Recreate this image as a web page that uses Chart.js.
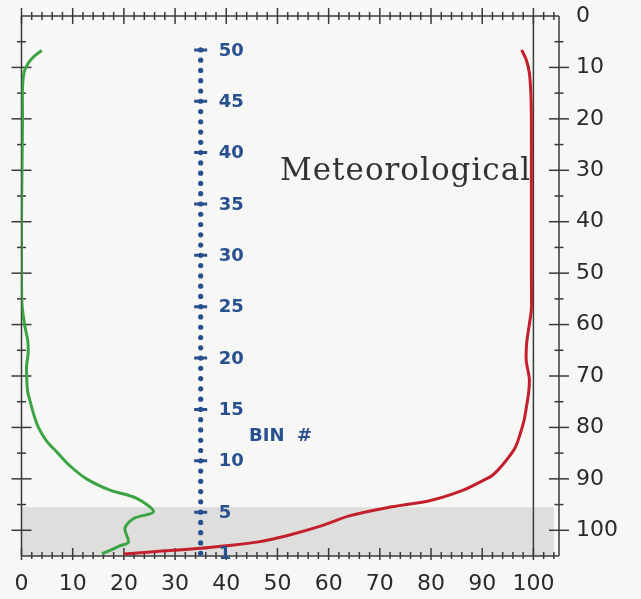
<!DOCTYPE html>
<html>
<head>
<meta charset="utf-8">
<script src="https://cdn.jsdelivr.net/npm/chart.js@4.4.1/dist/chart.umd.min.js"></script>
<style>
  html, body { margin: 0; padding: 0; background: #f7f7f5; }
  canvas { display: block; }
</style>
</head>
<body>
<canvas id="profileChart" width="641" height="599"></canvas>
<script>
// green profile: percent vs level
const greenPct = [3.95, 2.5, 1.3, 0.5, 0.2, 0.2, 0.1, 0, 0, 0.1, 0.6, 1.2, 1.3, 1.0, 1.0, 1.2, 1.7, 2.4, 3.3, 4.8, 7.1, 9.5, 12.7, 17.3, 22.5, 25.8, 21.9, 20.2, 20.9, 19.3, 15.7];
const greenLevel = [6.7, 7.8, 9.2, 11, 14, 20, 30, 40, 50, 56, 60, 63, 65.5, 68, 70, 73, 75, 77.5, 80, 82.5, 85, 87.5, 90, 92.2, 93.8, 96.4, 97.7, 99.6, 102.3, 103, 104.6];

// red profile
const redPct = [97.7, 98.6, 99.2, 99.5, 99.6, 99.6, 99.6, 99.6, 99.6, 99.2, 98.7, 98.6, 99.2, 99.1, 98.8, 98.2, 97.5, 96.4, 94.2, 92, 90.2, 86.3, 79.9, 71.4, 64, 58.4, 52, 46, 40, 35, 28, 20];
const redLevel = [6.6, 8.5, 11, 15, 20, 30, 40, 50, 57, 60, 63.5, 67, 70.5, 73, 75, 78.5, 81, 84, 87, 89.3, 90.3, 92.2, 94.2, 95.6, 97.2, 99.2, 101, 102.3, 103, 103.5, 104, 104.6];

// bin column
const binColumnX = 35;
const binNumbers = [1, 2, 3, 4, 5, 6, 7, 8, 9, 10, 11, 12, 13, 14, 15, 16, 17, 18, 19, 20, 21, 22, 23, 24, 25,
  26, 27, 28, 29, 30, 31, 32, 33, 34, 35, 36, 37, 38, 39, 40, 41, 42, 43, 44, 45, 46, 47, 48, 49, 50];
const binMarks = [5, 10, 15, 20, 25, 30, 35, 40, 45, 50];
const binLabels = [1, 5, 10, 15, 20, 25, 30, 35, 40, 45, 50];

const shadeFrom = 95.5;
const shadeTo = 105;
const titleText = 'Meteorological';

const axisColor = '#3a3a3a';
const binColor = '#28508e';

const toPoints = (xs, ys) => xs.map((v, i) => ({ x: v, y: ys[i] }));
const binPoints = (list) => list.map((b) => ({ x: binColumnX, y: b }));

const framePlugin = {
  id: 'frame',
  beforeDatasetsDraw(chart) {
    const { ctx, chartArea: a, scales } = chart;
    const x = scales.x, y = scales.y;
    ctx.save();

    // shaded band at the bottom
    ctx.fillStyle = 'rgba(205,205,205,0.6)';
    const bx0 = x.getPixelForValue(0), bx1 = x.getPixelForValue(104);
    const by0 = y.getPixelForValue(shadeFrom), by1 = y.getPixelForValue(shadeTo);
    ctx.fillRect(bx0, by0, bx1 - bx0, by1 - by0);

    // label
    ctx.fillStyle = '#333';
    ctx.font = '31px "DejaVu Serif"';
    ctx.letterSpacing = '1px';
    ctx.textBaseline = 'alphabetic';
    ctx.fillText(titleText, 280, 180);
    ctx.letterSpacing = '0px';

    ctx.strokeStyle = axisColor;
    ctx.lineWidth = 1.5;
    const line = (x0, y0, x1, y1) => {
      ctx.beginPath();
      ctx.moveTo(x0, y0);
      ctx.lineTo(x1, y1);
      ctx.stroke();
    };

    // frame lines
    line(a.left, a.top, a.right, a.top);
    line(a.left, a.bottom, a.right, a.bottom);
    line(a.left, a.top, a.left, a.bottom);
    line(a.right, a.top, a.right, a.bottom);
    line(x.getPixelForValue(100), a.top, x.getPixelForValue(100), a.bottom);

    // ticks on top and bottom
    for (let v = 0; v <= 104; v += 2) {
      const px = x.getPixelForValue(v);
      const major = v % 10 === 0 && v <= 100;
      const h = major ? 8 : 4;
      line(px, a.top - h, px, a.top + h);
      line(px, a.bottom - h, px, a.bottom + (major ? 4 : 3));
    }
    // ticks on left and right
    for (let v = 5; v <= 100; v += 5) {
      const py = y.getPixelForValue(v);
      const w = v % 10 === 0 ? 10 : 4.5;
      line(a.left - w, py, a.left + w, py);
      line(a.right - w, py, a.right + w, py);
    }
    ctx.restore();
  },
  afterDatasetsDraw(chart) {
    const { ctx, scales } = chart;
    const x = scales.x, yb = scales.yBin;
    ctx.save();
    ctx.fillStyle = binColor;
    ctx.font = 'bold 18px "DejaVu Sans"';
    ctx.textBaseline = 'middle';
    ctx.textAlign = 'left';
    const lx = x.getPixelForValue(binColumnX) + 18;
    binLabels.forEach((b) => {
      ctx.fillText(String(b), lx, yb.getPixelForValue(b) + 1);
    });
    ctx.font = 'bold 18px "DejaVu Sans"';
    ctx.fillText('BIN  #', 249, 436);
    ctx.restore();
  }
};

const context = document.getElementById('profileChart').getContext('2d');

const chart = new Chart(context, {
  type: 'scatter',
  data: {
    datasets: [
      {
        label: 'bin ticks',
        data: binPoints(binMarks),
        xAxisID: 'x',
        yAxisID: 'yBin',
        pointStyle: 'line',
        pointRadius: 6.5,
        borderWidth: 3,
        borderColor: binColor,
        showLine: false,
      },
      {
        label: 'bins',
        data: binPoints(binNumbers),
        xAxisID: 'x',
        yAxisID: 'yBin',
        pointRadius: 2.6,
        borderWidth: 0,
        backgroundColor: binColor,
        showLine: false,
      },
      {
        label: 'red',
        data: toPoints(redPct, redLevel),
        xAxisID: 'x',
        yAxisID: 'y',
        showLine: true,
        pointRadius: 0,
        borderColor: '#c41f2c',
        borderWidth: 3,
        tension: 0.3,
      },
      {
        label: 'green',
        data: toPoints(greenPct, greenLevel),
        xAxisID: 'x',
        yAxisID: 'y',
        showLine: true,
        pointRadius: 0,
        borderColor: '#3da445',
        borderWidth: 3,
        tension: 0.3,
      },
    ],
  },
  options: {
    responsive: false,
    animation: false,
    devicePixelRatio: 1,
    layout: { padding: { left: 21.5, top: 16 } },
    plugins: { legend: { display: false }, tooltip: { enabled: false } },
    scales: {
      x: {
        type: 'linear',
        position: 'bottom',
        min: 0,
        max: 105,
        grid: { display: false, drawTicks: false },
        border: { display: false },
        ticks: {
          stepSize: 10,
          includeBounds: false,
          autoSkip: false,
          maxRotation: 0,
          padding: 15,
          color: '#2a2a2a',
          font: { family: 'DejaVu Sans', size: 22 },
        },
        afterFit: (scale) => {
          scale.height = 43;
          scale.paddingLeft = 0;
          scale.paddingRight = 0;
        },
      },
      y: {
        type: 'linear',
        position: 'right',
        reverse: true,
        min: 0,
        max: 105,
        grid: { display: false, drawTicks: false },
        border: { display: false },
        ticks: {
          stepSize: 10,
          includeBounds: false,
          padding: 17,
          color: '#2a2a2a',
          font: { family: 'DejaVu Sans', size: 22 },
        },
        afterFit: (scale) => {
          scale.width = 82;
          scale.paddingTop = 0;
          scale.paddingBottom = 0;
        },
      },
      yBin: {
        type: 'linear',
        display: false,
        min: 0.73,
        max: 53.3,
      },
    },
  },
  plugins: [framePlugin],
});
</script>
</body>
</html>
